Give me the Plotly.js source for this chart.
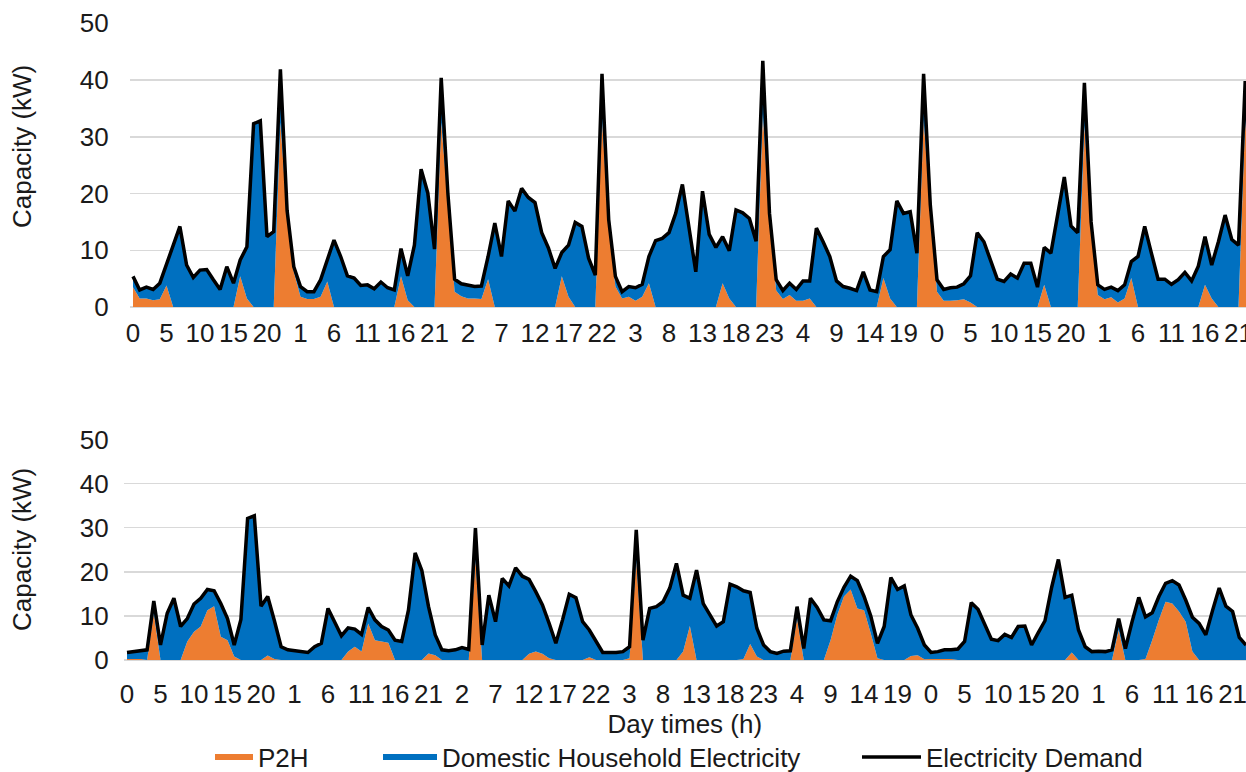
<!DOCTYPE html>
<html>
<head>
<meta charset="utf-8">
<script src="https://cdn.plot.ly/plotly-3.0.1.min.js"></script>
<style>
  html, body { margin: 0; padding: 0; background: #ffffff; }
  #chart { width: 1246px; height: 772px; }
</style>
</head>
<body>
<div id="chart"></div>
<script>
// Hour-of-day tick labels (one label every 5 hours over the 168-hour week)
const tickLabels = ["0","5","10","15","20","1","6","11","16","21","2","7","12","17","22","3","8","13","18","23","4","9","14","19","0","5","10","15","20","1","6","11","16","21"];

// ---- Upper chart ----
const topDemand = [
  5.4,3.0,3.5,3.1,4.2,7.6,10.9,14.2,7.4,5.2,6.5,6.6,4.8,3.1,7.1,4.2,8.3,10.6,32.3,32.8,12.4,13.3,41.9,17.0,
  7.1,3.6,2.7,2.7,4.8,8.3,11.8,8.9,5.5,5.1,3.8,3.9,3.2,4.4,3.4,3.0,10.3,5.5,10.9,24.3,20.1,10.2,40.4,20.0,
  4.9,4.1,3.9,3.6,3.7,8.9,14.8,8.9,18.7,16.9,20.9,19.3,18.4,13.1,10.4,6.8,9.6,10.9,14.9,14.2,8.6,5.6,41.1,15.4,
  5.4,2.7,3.6,3.4,4.0,8.9,11.7,12.1,13.1,16.5,21.6,13.9,6.2,20.4,12.8,10.5,12.4,9.9,17.1,16.6,15.6,11.6,43.4,16.5,
  4.8,2.9,4.2,3.1,4.6,4.6,13.9,11.5,8.9,4.6,3.6,3.3,2.9,6.2,3.0,2.7,8.9,10.1,18.7,16.5,16.8,9.5,41.1,18.0,
  4.8,3.1,3.4,3.5,4.1,5.5,13.1,11.5,8.4,4.9,4.5,5.8,5.1,7.7,7.7,3.5,10.5,9.5,16.2,22.9,14.3,13.1,39.5,15.0,
  3.9,3.1,3.5,2.9,3.9,8.0,8.9,14.2,9.5,4.9,4.9,4.0,4.8,6.1,4.6,7.2,12.4,7.4,11.5,16.2,11.9,10.9,39.8,16.0
];
const topP2H = [
  3.5,1.5,1.5,1.2,1.35,3.8,0,0,0,0,0,0,0,0,0,0,5.4,1.5,0,0,0,0,32.5,16.0,
  6.2,1.8,1.4,1.4,1.8,4.5,0,0,0,0,0,0,0,0,0,0,5.4,1.2,0,0,0,0,32.5,18.5,
  2.7,1.9,1.5,1.5,1.4,4.9,0,0,0,0,0,0,0,0,0,0,5.4,1.8,0,0,0,0,33.0,14.5,
  3.6,1.5,1.8,1.1,1.8,4.2,0,0,0,0,0,0,0,0,0,0,4.2,1.5,0,0,0,0,34.0,15.5,
  2.9,1.4,2.1,1.1,1.1,1.5,0,0,0,0,0,0,0,0,0,0,5.1,1.5,0,0,0,0,33.0,17.0,
  2.7,1.1,1.1,1.2,1.35,0.8,0,0,0,0,0,0,0,0,0,0,3.9,0,0,0,0,0,32.0,14.0,
  2.1,1.35,1.7,0.8,1.5,5.1,0,0,0,0,0,0,0,0,0,0,3.9,1.5,0,0,0,0,33.0,15.0
];

// ---- Lower chart ----
const bottomDemand = [
  1.7,1.9,2.0,2.3,13.4,3.4,10.6,14.0,7.6,9.4,12.7,14.0,16.0,15.7,12.8,9.4,3.4,9.2,32.1,32.7,12.2,14.4,8.9,3.0,
  2.3,2.1,1.8,1.7,3.0,3.8,11.7,8.7,5.5,7.3,7.0,5.8,11.9,9.1,7.6,6.8,4.5,4.2,11.3,24.3,20.3,12.1,5.7,2.3,
  2.1,2.3,2.8,2.4,29.9,3.4,14.7,8.7,18.5,16.8,20.9,19.0,18.3,15.5,12.5,8.3,3.8,9.1,14.9,14.1,8.7,6.8,4.3,1.7,
  1.7,1.7,1.9,3.0,29.5,4.5,11.7,12.1,13.2,16.3,21.9,14.7,14.0,20.4,12.8,10.2,7.7,8.7,17.2,16.6,15.7,15.3,7.2,3.4,
  1.9,1.5,2.0,2.1,12.1,2.6,14.0,11.9,9.1,8.9,13.2,16.5,19.0,18.0,14.4,10.0,3.8,7.6,18.7,16.0,16.8,10.2,7.2,3.4,
  1.7,1.9,2.3,2.3,2.5,4.2,13.0,11.5,7.9,4.7,4.4,5.8,5.1,7.6,7.7,3.4,6.2,8.9,16.5,22.8,14.2,14.7,6.8,3.0,
  1.9,2.0,1.9,2.3,9.4,2.6,8.7,14.2,9.8,10.7,14.4,17.4,18.0,17.0,13.6,9.7,8.3,5.7,11.2,16.3,12.2,11.0,5.1,3.4
];
const bottomP2H = [
  0.2,0.2,0.2,0,10.6,0,0,0,0,4.2,6.4,7.6,11.3,12.2,5.3,4.5,0.8,0,0,0,0,1.0,0.2,0,
  0,0,0,0,0,0,0,0,0,1.9,3.0,1.9,8.3,4.5,4.2,3.9,0,0,0,0,0,1.5,1.1,0,
  0,0,0,0,22.7,0,0,0,0,0,0,0,1.4,1.9,1.4,0.4,0,0,0,0,0,0.6,0,0,
  0,0,0,0.4,22.5,0,0,0,0,0,0,1.9,7.7,0,0,0,0,0,0,0,0.2,3.6,0.8,0,
  0,0,0,0,9.4,0,0,0,0,4.5,10.2,14.4,16.0,11.7,11.3,6.0,0.4,0,0,0,0,0.9,1.1,0.15,
  0.2,0.2,0.2,0.2,0,0,0,0,0,0,0,0,0,0,0,0,0,0,0,0,0,1.7,0,0,
  0,0,0,0,6.8,0,0,0,0.2,4.5,9.1,13.2,12.8,11.0,8.7,1.9,0,0,0,0,0,0,0,0
];

const hoursIdx = topDemand.map((_, i) => i);
const tickIdx = tickLabels.map((_, k) => k * 5);
const domestic = (dem, p2h) => dem.map((d, i) => Math.max(0, +(d - p2h[i]).toFixed(2)));

const ORANGE = "#ED7D31", BLUE = "#0070C0";
const FONT = "Liberation Sans, Arial, sans-serif";
const TXT = "#1a1a1a";

function traces(xa, ya, dem, p2h, showLeg) {
  return [
    { type: "scatter", x: hoursIdx, y: p2h, name: "P2H", stackgroup: "s" + xa,
      mode: "none", fillcolor: ORANGE, line: { width: 0 }, xaxis: xa, yaxis: ya,
      showlegend: showLeg, legend: "legend" },
    { type: "scatter", x: hoursIdx, y: domestic(dem, p2h), name: "Domestic Household Electricity",
      stackgroup: "s" + xa, mode: "none", fillcolor: BLUE, line: { width: 0 }, xaxis: xa, yaxis: ya,
      showlegend: showLeg, legend: "legend2" },
    { type: "scatter", x: hoursIdx, y: dem, name: "Electricity Demand", mode: "lines",
      line: { color: "#000000", width: 3.5, shape: "linear" }, xaxis: xa, yaxis: ya,
      showlegend: showLeg, legend: "legend3" }
  ];
}

const data = [].concat(
  traces("x", "y", topDemand, topP2H, false),
  traces("x2", "y2", bottomDemand, bottomP2H, true)
);

const W = 1246, H = 772;
const xCommon = {
  tickmode: "array", tickvals: tickIdx, ticktext: tickLabels,
  showgrid: false, zeroline: false, showline: false, ticks: "",
  ticklabeloverflow: "allow", automargin: false,
  tickfont: { family: FONT, size: 26, color: TXT }
};
const yCommon = {
  range: [0, 50], dtick: 10, tick0: 0, showgrid: true, gridcolor: "#d9d9d9", gridwidth: 1.5,
  zeroline: true, zerolinecolor: "#d9d9d9", zerolinewidth: 1.5, showline: false, ticks: "",
  automargin: false,
  tickfont: { family: FONT, size: 26, color: TXT }
};
const legBase = {
  orientation: "h", xanchor: "left", y: 1 - 757 / H, yanchor: "middle",
  font: { family: FONT, size: 26, color: TXT }, bgcolor: "rgba(0,0,0,0)", borderwidth: 0
};

const layout = {
  width: W, height: H,
  margin: { l: 0, r: 0, t: 0, b: 0, autoexpand: false },
  paper_bgcolor: "#ffffff", plot_bgcolor: "#ffffff",
  showlegend: true,
  font: { family: FONT, size: 26, color: TXT },
  xaxis: Object.assign({}, xCommon, {
    domain: [129.65 / W, 1], range: [-0.5, 166.12], anchor: "y", ticklabelstandoff: 8
  }),
  yaxis: Object.assign({}, yCommon, {
    domain: [1 - 307 / H, 1 - 23.3 / H], anchor: "x", ticklabelstandoff: 20
  }),
  xaxis2: Object.assign({}, xCommon, {
    domain: [123.65 / W, 1], range: [-0.5, 167.0], anchor: "y2", ticklabelstandoff: 16,
    title: { text: "Day times (h)", font: { family: FONT, size: 26, color: TXT }, standoff: 2 }
  }),
  yaxis2: Object.assign({}, yCommon, {
    domain: [1 - 660 / H, 1 - 439.5 / H], anchor: "x2", ticklabelstandoff: 14
  }),
  annotations: [
    { text: "Capacity (kW)", textangle: -90, xref: "paper", yref: "paper",
      x: 22 / W, y: 1 - 147 / H, xanchor: "center", yanchor: "middle", showarrow: false,
      font: { family: FONT, size: 26, color: TXT } },
    { text: "Capacity (kW)", textangle: -90, xref: "paper", yref: "paper",
      x: 22 / W, y: 1 - 550 / H, xanchor: "center", yanchor: "middle", showarrow: false,
      font: { family: FONT, size: 26, color: TXT } }
  ],
  legend: Object.assign({}, legBase, { x: 210 / W, itemwidth: 38 }),
  legend2: Object.assign({}, legBase, { x: 378 / W, itemwidth: 54 }),
  legend3: Object.assign({}, legBase, { x: 857 / W, itemwidth: 59 })
};

Plotly.newPlot("chart", data, layout, { displayModeBar: false, staticPlot: true });
</script>
</body>
</html>
